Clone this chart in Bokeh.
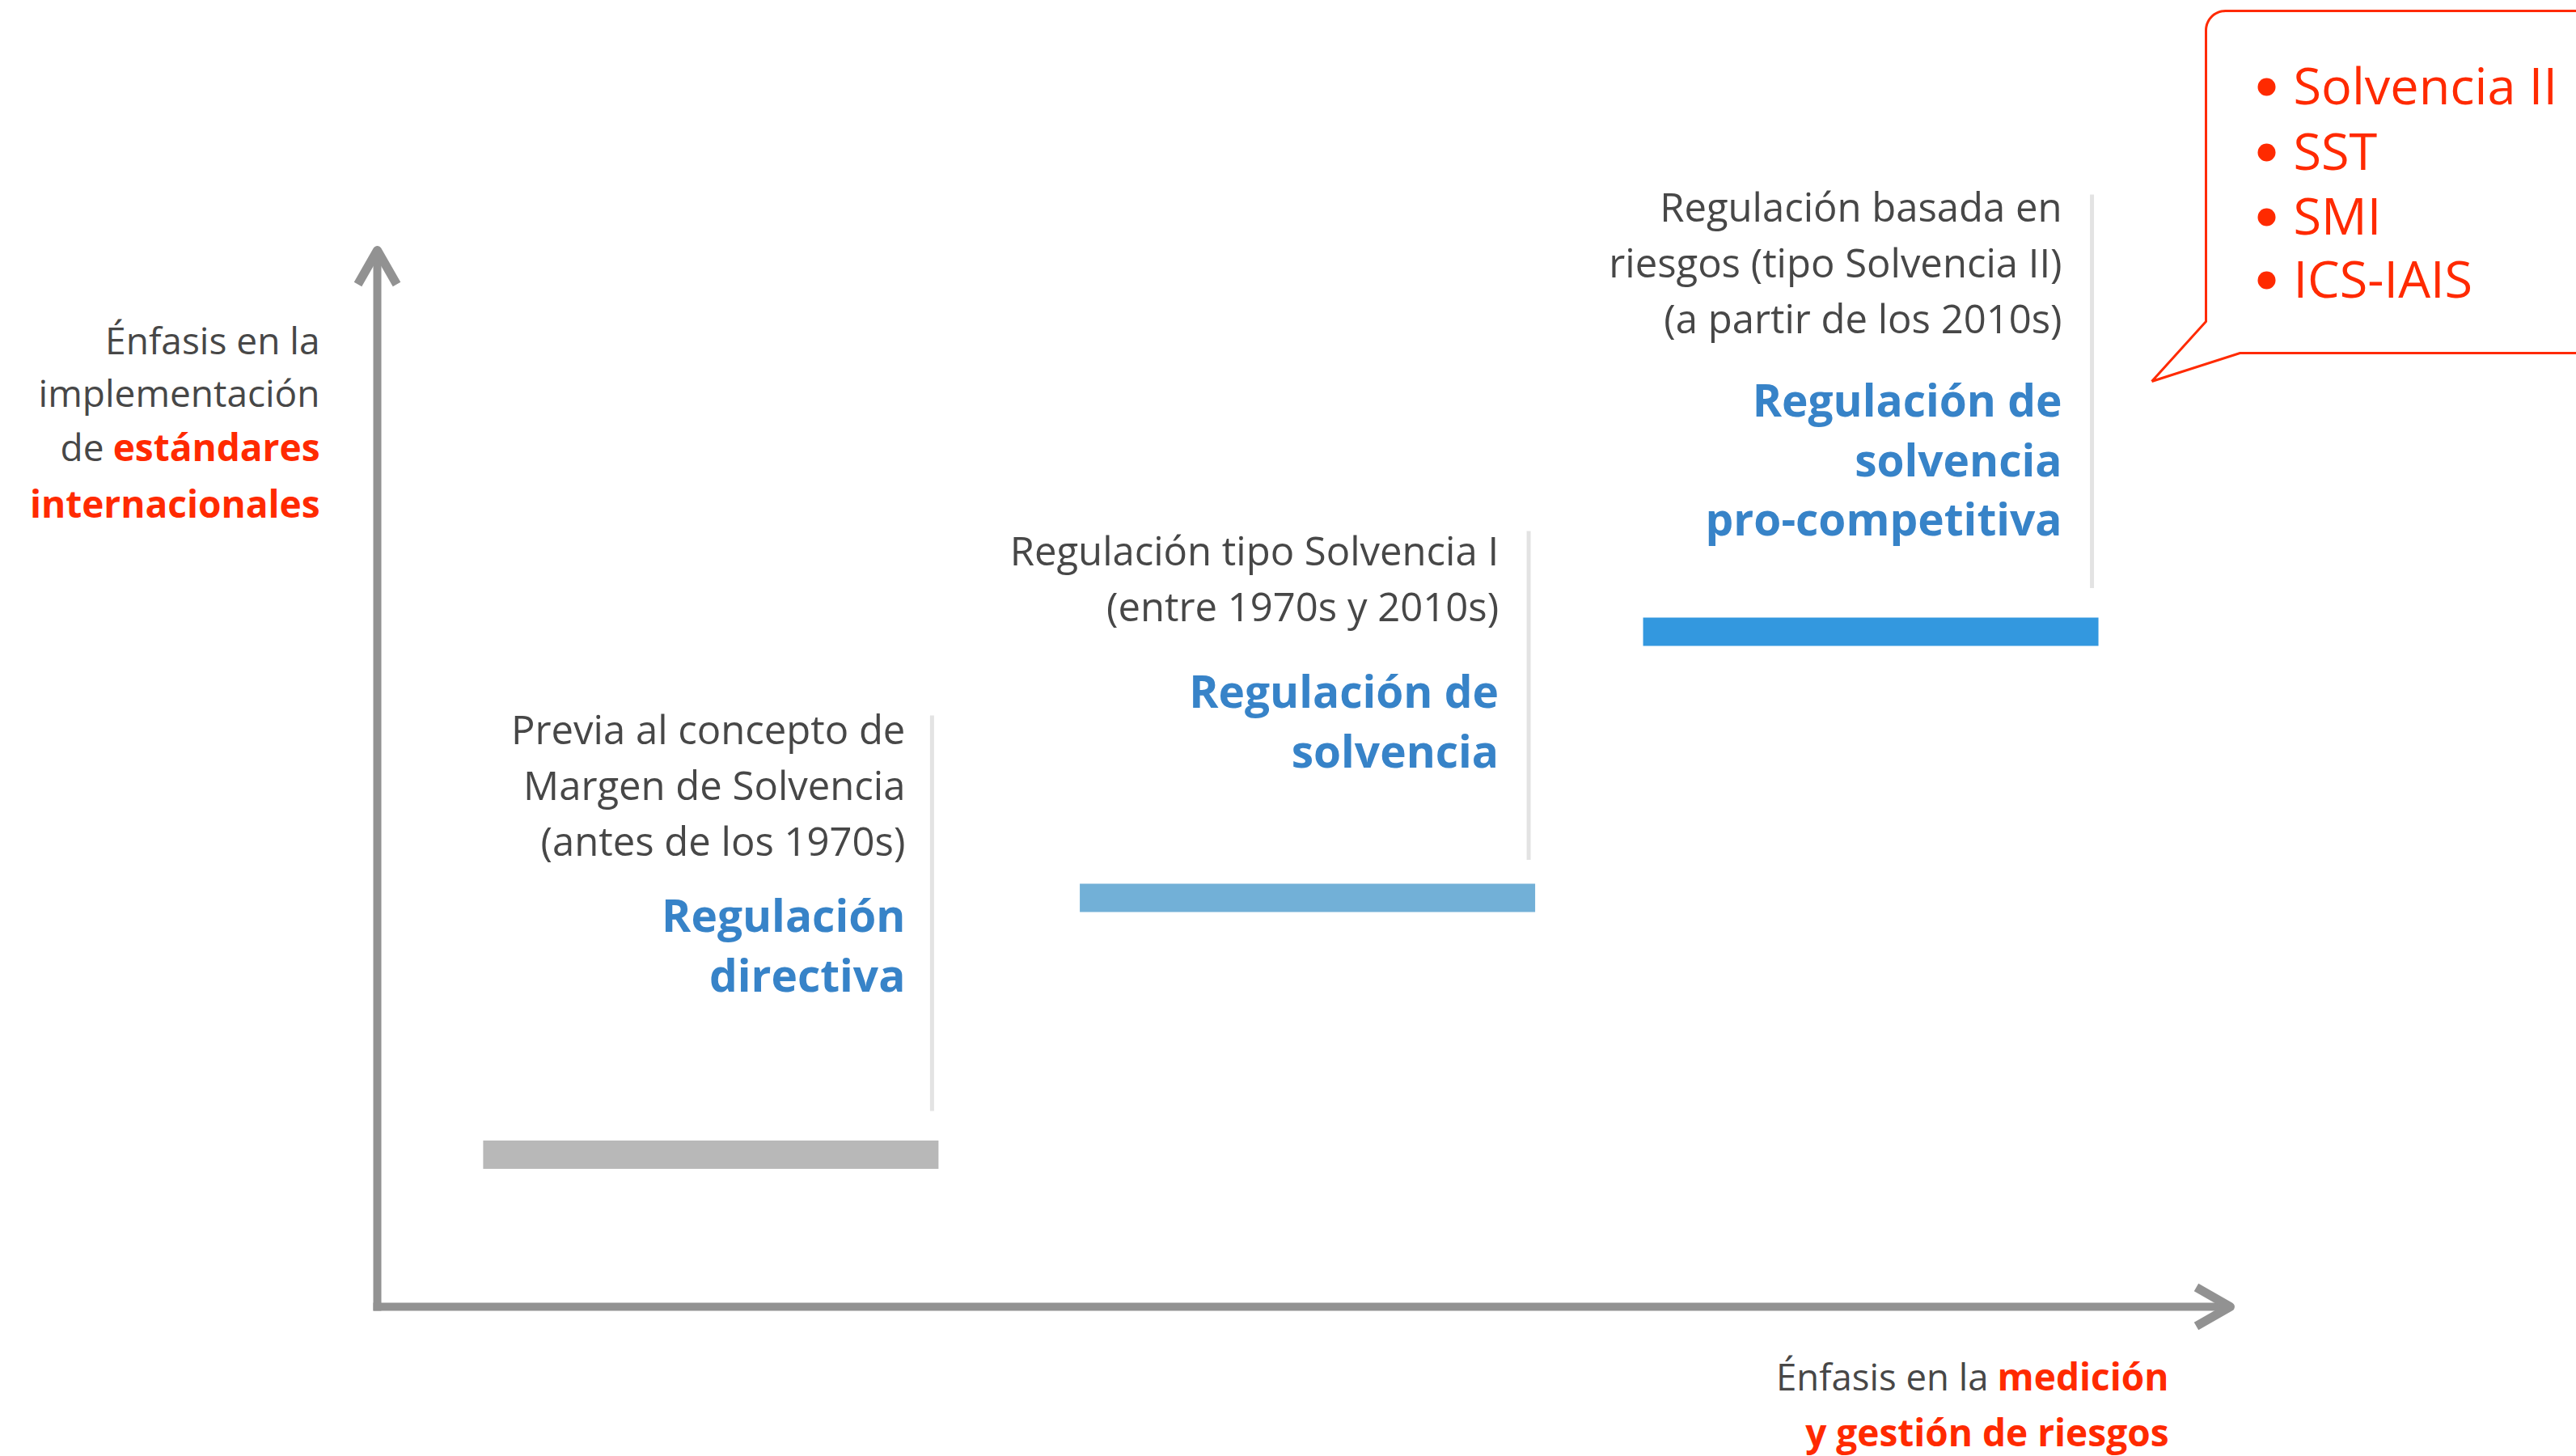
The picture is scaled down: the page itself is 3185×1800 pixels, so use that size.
import numpy as np
from bokeh.plotting import figure
from bokeh.models import Range1d
from bokeh.core.properties import value
from bokeh.embed import file_html
from bokeh.resources import INLINE

# ---------------- data ----------------
stages = ["Regulación directiva", "Regulación de solvencia",
          "Regulación de solvencia pro-competitiva"]
# emphasis on risk measurement & management (x) and on international standards (y), 0-10 scale
risk_emphasis = [1.80, 5.02, 8.06]
standards_emphasis = [1.44, 3.87, 6.39]
stage_periods = [
    ["Previa al concepto de", "Margen de Solvencia", "(antes de los 1970s)"],
    ["Regulación tipo Solvencia I", "(entre 1970s y 2010s)"],
    ["Regulación basada en", "riesgos (tipo Solvencia II)", "(a partir de los 2010s)"],
]
stage_titles = [
    ["Regulación", "directiva"],
    ["Regulación de", "solvencia"],
    ["Regulación de", "solvencia", "pro-competitiva"],
]
standards_examples = ["Solvencia II", "SST", "SMI", "ICS-IAIS"]
axis_max = 10

# ---------------- styles / layout ----------------
W, H = 3185, 1800
FONT = value("Open Sans")
GRAY_TXT = "#474747"
BLUE_TXT = "#3783c8"
RED = "#ff2a00"
AXIS = "#929292"
SEP = "#e3e3e3"
bar_colors = ["#b8b8b8", "#72b0d7", "#3398df"]
BASELINE_FIX = 0.40   # rendered text sits this many em below the requested baseline

# reference-pixel <-> data conversion (origin at axis corner)
OX, OY = 466, 1615
SX = (2757 - OX) / axis_max
SY = (OY - 309) / axis_max


def ux(px):
    return (np.asarray(px, dtype=float) - OX) / SX


def uy(py):
    return (OY - np.asarray(py, dtype=float)) / SY


def px_x(u):
    return OX + np.asarray(u, dtype=float) * SX


def px_y(u):
    return OY - np.asarray(u, dtype=float) * SY


p = figure(width=W, height=H, output_backend="svg", toolbar_location=None,
           x_range=Range1d(float(ux(0)), float(ux(W))),
           y_range=Range1d(float(uy(H)), float(uy(0))),
           x_axis_type=None, y_axis_type=None, min_border=0,
           outline_line_color=None, background_fill_color="white",
           border_fill_color="white")
p.grid.visible = False


def txt(xs, ys, texts, size, color, bold=False, align="right"):
    ys = [y - BASELINE_FIX * size for y in ys]
    p.text(x=list(ux(xs)), y=list(uy(ys)), text=list(texts), text_font=FONT,
           text_font_size=value(f"{size}px"), text_color=color,
           text_font_style="bold" if bold else "normal",
           text_align=align, text_baseline="alphabetic")


# ---------------- axes (arrows) ----------------
AW = 10
p.line([0, 0], [float(uy(OY + 5)), axis_max - float(5 / SY)],
       line_color=AXIS, line_width=AW)
p.line([float(ux(OX - 5)), axis_max - float(5 / SX)], [0, 0],
       line_color=AXIS, line_width=AW)
tipx, tipy = px_x(0), px_y(axis_max)
p.line(list(ux([tipx - 24, tipx, tipx + 24])), list(uy([tipy + 42, tipy, tipy + 42])),
       line_color=AXIS, line_width=11, line_join="round")
tx, ty = px_x(axis_max), px_y(0)
p.line(list(ux([tx - 42, tx, tx - 42])), list(uy([ty - 24, ty, ty + 24])),
       line_color=AXIS, line_width=11, line_join="round")

# ---------------- bars ----------------
BAR_PX = 563
p.rect(x=risk_emphasis, y=standards_emphasis, width=BAR_PX / SX, height=35,
       height_units="screen", fill_color=bar_colors, line_color=None)

# ---------------- stage labels ----------------
text_offset = [41, 45, 45]
period_first = [920, 699, 274]
title_first = [1152, 875, 515]
sep_top = [884, 656, 240]
sep_gap = [37, 30, 37]
for i in range(3):
    bar_right = float(px_x(risk_emphasis[i])) + BAR_PX / 2
    bar_top = float(px_y(standards_emphasis[i])) - 17
    rx = bar_right - text_offset[i]
    p.line([float(ux(bar_right - 8))] * 2, [float(uy(sep_top[i])), float(uy(bar_top - sep_gap[i]))],
           line_color=SEP, line_width=5)
    lines = stage_periods[i]
    txt([rx] * len(lines), [period_first[i] + 69 * k for k in range(len(lines))],
        lines, 49, GRAY_TXT)
    tl = stage_titles[i]
    txt([rx] * len(tl), [title_first[i] + 73.5 * k for k in range(len(tl))],
        tl, 55, BLUE_TXT, bold=True)

# ---------------- axis titles ----------------
txt([395, 395], [438, 503], ["Énfasis en la", "implementación"], 46, GRAY_TXT)
txt([128], [570], ["de"], 46, GRAY_TXT)
txt([395, 395], [570, 640], ["estándares", "internacionales"], 46, RED, bold=True)

txt([2458], [1719], ["Énfasis en la"], 45.5, GRAY_TXT)
txt([2681, 2681], [1719, 1788], ["medición", "y gestión de riesgos"], 46, RED, bold=True)

# ---------------- callout ----------------
r = 24
t = np.linspace(0, np.pi / 2, 16)
cx, cy = 2727 + r, 13 + r
arc_x = cx - r * np.cos(t)
arc_y = cy - r * np.sin(t)
path_x = np.concatenate([[2660, 2727], arc_x, [3240, 3240, 2769, 2660]])
path_y = np.concatenate([[471, 397], arc_y, [13, 436, 436, 471]])
p.line(list(ux(path_x)), list(uy(path_y)), line_color=RED, line_width=3,
       line_join="miter")

base = [129, 210, 290, 368]
p.scatter(x=[float(ux(2802))] * 4, y=list(uy([b - 22 for b in base])), size=22,
          fill_color=RED, line_color=None)
txt([2835] * 4, base, standards_examples, 63, RED, align="left")

open("out.html", "w").write(file_html(p, INLINE))
